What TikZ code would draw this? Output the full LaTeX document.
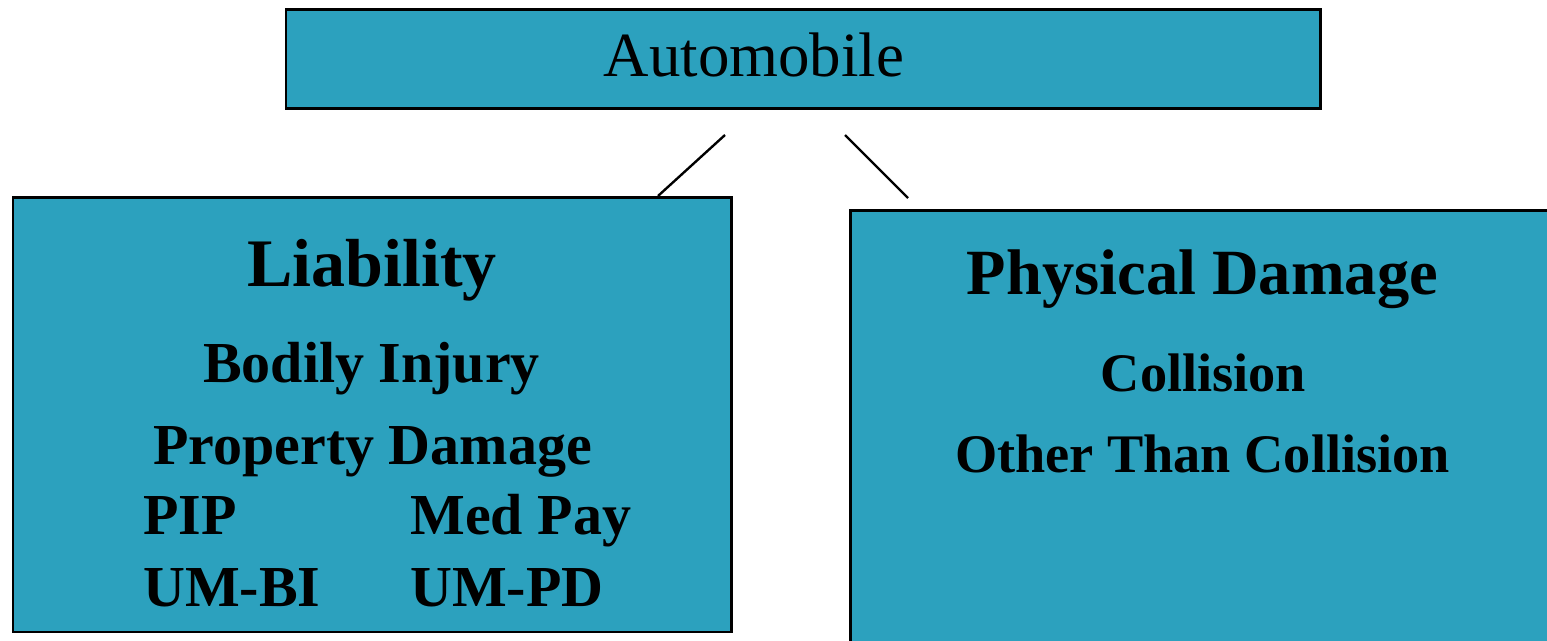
\documentclass[tikz,border=0pt]{standalone}
\usepackage{fontspec}
\setmainfont{Liberation Serif}
\usepackage{xcolor}
\usepackage{tikz}
\usetikzlibrary{positioning}
\definecolor{boxteal}{HTML}{2CA1BE}
\tikzset{
  box/.style={draw, line width=1.7pt, fill=boxteal, rectangle, inner sep=0pt},
  link/.style={draw, line width=1.35pt},
  toptext/.style={inner sep=0pt, anchor=base, font=\fontsize{35.8}{40}\selectfont},
  headtext/.style={inner sep=0pt, anchor=base, font=\bfseries\fontsize{38.7}{44}\selectfont},
  subtext/.style={inner sep=0pt, anchor=base, font=\bfseries\fontsize{33}{38}\selectfont},
  itemtext/.style={inner sep=0pt, anchor=base west, font=\bfseries\fontsize{33}{38}\selectfont}
}

\begin{document}
\begin{tikzpicture}
      \clip (0,0) rectangle (30.94,12.82);
      \useasboundingbox (0,0) rectangle (30.94,12.82);

      \node[box, minimum width=20.68cm, minimum height=1.98cm] (auto) at (16.06,11.63) {};
      \node[toptext] (autolbl) at (15.08,11.28) {Automobile};

      \node[box, minimum width=14.36cm, minimum height=8.68cm] (liab) at (7.44,4.52) {};
      \node[box, minimum width=14.4cm, minimum height=8.9cm] (phys) at (24.2,4.15) {};

      \coordinate (autoL) at (14.5,10.12);
      \coordinate (liabT) at (13.16,8.9);
      \coordinate (autoR) at (16.9,10.12);
      \coordinate (physT) at (18.16,8.86);
      \draw[link] (autoL) -- (liabT);
      \draw[link] (autoR) -- (physT);

      \node[headtext] (liabhead) at (7.44,7.08) {Liability};
      \node[subtext] (bodily) at (7.43,5.16) {Bodily Injury};
      \node[subtext] (propdmg) at (7.45,3.52) {Property Damage};
      \node[itemtext] (pip) at (2.86,2.12) {PIP};
      \node[itemtext] (medpay) at (8.2,2.12) {Med Pay};
      \node[itemtext] (umbi) at (2.86,0.68) {UM-BI};
      \node[itemtext] (umpd) at (8.2,0.68) {UM-PD};

      \node[headtext, font=\bfseries\fontsize{36.7}{42}\selectfont] (physhead) at (24.05,6.92) {Physical Damage};
      \node[subtext, font=\bfseries\fontsize{30.9}{36}\selectfont] (coll) at (24.07,4.98) {Collision};
      \node[subtext, font=\bfseries\fontsize{30.9}{36}\selectfont] (otc) at (24.05,3.36) {Other Than Collision};
    \end{tikzpicture}
\end{document}
